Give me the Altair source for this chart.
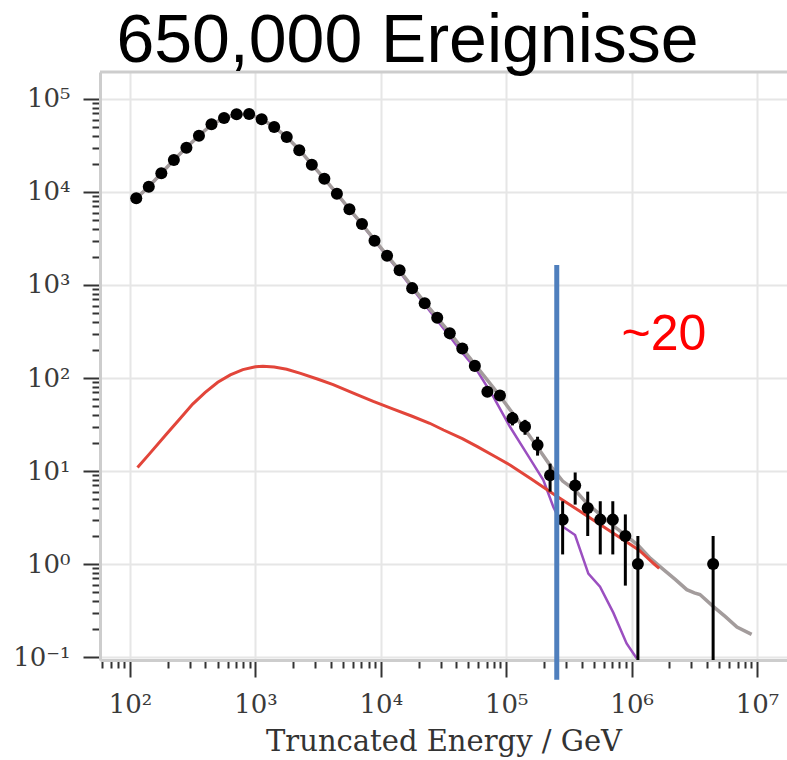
import numpy as np
import pandas as pd
import altair as alt

# ---- measured spectrum: event counts per bin (bin centres in log10 E/GeV) ----
point_log_e = [2.05, 2.15, 2.25, 2.35, 2.45, 2.55, 2.65, 2.75, 2.85, 2.95,
               3.05, 3.15, 3.25, 3.35, 3.45, 3.55, 3.65, 3.75, 3.85, 3.95,
               4.05, 4.15, 4.25, 4.35, 4.45, 4.55, 4.65, 4.75, 4.85, 4.95,
               5.05, 5.15, 5.25, 5.35, 5.45, 5.55, 5.65, 5.75, 5.85, 5.95,
               6.05, 6.65]
point_counts = [8550, 11400, 15900, 22100, 29950, 40300, 53450, 62500, 68500, 69000,
                60500, 50000, 39000, 28100, 19650, 13900, 9590, 6520, 4530, 2995,
                2065, 1442, 925, 635, 445, 302, 208, 135, 71, 65,
                37, 30, 19, 9, 3, 7, 4, 3, 3, 2,
                1, 1]

# ---- total expectation (grey) ----
total_log_e = [2.05, 2.15, 2.25, 2.35, 2.45, 2.55, 2.65, 2.75, 2.85, 2.95,
               3.05, 3.15, 3.25, 3.35, 3.45, 3.55, 3.65, 3.75, 3.85, 3.95,
               4.05, 4.15, 4.25, 4.35, 4.45, 4.55, 4.65, 4.75, 4.85, 4.95,
               5.05, 5.15, 5.25, 5.35, 5.45, 5.55, 5.65, 5.75, 5.85, 5.95,
               6.05, 6.15, 6.25, 6.35, 6.44, 6.5, 6.545, 6.65, 6.75, 6.84, 6.957]
total_n = [8550, 11400, 15900, 22100, 30000, 40300, 53000, 62500, 68000, 68500,
           61000, 50000, 39000, 28500, 19800, 13900, 9600, 6550, 4500, 3050,
           2080, 1430, 960, 650, 445, 305, 208, 140, 95, 64,
           42, 28, 18, 11.5, 7.8, 6.2, 4.4, 3.4, 2.6, 2.05,
           1.6, 1.15, 0.88, 0.68, 0.53, 0.49, 0.47, 0.35, 0.27, 0.21, 0.175]

# ---- conventional component (purple) ----
conv_log_e = [2.05, 2.15, 2.25, 2.35, 2.45, 2.55, 2.65, 2.75, 2.85, 2.95,
              3.05, 3.15, 3.25, 3.35, 3.45, 3.55, 3.65, 3.75, 3.85, 3.95,
              4.05, 4.15, 4.25, 4.35, 4.45, 4.55, 4.632, 4.765, 4.897, 5.03,
              5.163, 5.296, 5.376, 5.455, 5.549, 5.655, 5.748, 5.854, 5.96, 6.04]
conv_n = [8540, 11385, 15880, 22070, 29960, 40250, 52930, 62410, 67890, 68370,
          60870, 49880, 38890, 28400, 19720, 13840, 9545, 6495, 4455, 3010,
          2040, 1390, 925, 618, 415, 280, 200, 122, 63, 29.9,
          15.5, 8.0, 4.1, 2.5, 2.05, 0.79, 0.57, 0.30, 0.14, 0.097]

# ---- astrophysical component (red) ----
astro_log_e = [2.06, 2.15, 2.29, 2.4, 2.5, 2.6, 2.7, 2.8, 2.9, 3.0,
               3.06, 3.15, 3.25, 3.36, 3.5, 3.62, 3.8, 3.94, 4.1, 4.25,
               4.39, 4.5, 4.65, 4.77, 4.9, 5.03, 5.2, 5.4, 5.6, 5.8,
               5.9, 6.06, 6.18, 6.22]
astro_n = [10.9, 15.0, 24.8, 36.6, 52.5, 70, 90, 108, 123, 132,
           134, 131, 124, 112, 97, 85, 67, 56, 46.3, 38.8,
           32.6, 27.6, 22.3, 18.3, 14.6, 11.6, 8.2, 5.4, 3.6, 2.4,
           1.95, 1.41, 1.0, 0.9]

# ---- energy cut and annotation ----
cut_energy = [2.53e5]
cut_top = [1640]
cut_bottom = [0.057]
note_energy = [10 ** 6.258]
note_level = [200]
note_text = ["~20"]

# ---- tables ----
pts = pd.DataFrame({"E": 10 ** np.array(point_log_e), "N": point_counts})
err = np.sqrt(pts["N"])
pts["lo"] = np.maximum(pts["N"] - err, 1e-3)
pts["hi"] = pts["N"] + err
total = pd.DataFrame({"E": 10 ** np.array(total_log_e), "N": total_n})
conv = pd.DataFrame({"E": 10 ** np.array(conv_log_e), "N": conv_n})
astro = pd.DataFrame({"E": 10 ** np.array(astro_log_e), "N": astro_n})
cut = pd.DataFrame({"E": cut_energy, "N": cut_top, "N2": cut_bottom})
note = pd.DataFrame({"E": note_energy, "N": note_level, "t": note_text})

W, H = 687, 588
SERIF = "DejaVu Serif"
DEC = "abs(log(datum.value) / LN10 - round(log(datum.value) / LN10)) < 1e-6"
SUP = "['\u207b\u00b9','\u2070','\u00b9','\u00b2','\u00b3','\u2074','\u2075','\u2076','\u2077']"
LABEL = f"{DEC} ? '10' + {SUP}[round(log(datum.value) / LN10) + 1] : ''"

x_ticks = [m * 10.0 ** e for e in range(1, 8) for m in range(1, 10)
           if 57.7 <= m * 10.0 ** e <= 1.73e7]
y_ticks = [m * 10.0 ** e for e in range(-1, 6) for m in range(1, 10)
           if 0.093 <= m * 10.0 ** e <= 1.95e5]

common_axis = dict(
    labelExpr=LABEL,
    tickSize={"condition": {"test": DEC, "value": 17}, "value": 8},
    tickWidth=2, tickColor="#333333",
    domainColor="#cdcdcd", domainWidth=3,
    gridColor="#e6e6e6", gridWidth=2,
    gridOpacity={"condition": {"test": DEC, "value": 1}, "value": 0},
    labelFont=SERIF, labelFontSize=26, labelColor="#3a3a3a",
    labelOverlap=False, labelFlush=False, labelBound=False,
)

xs = alt.Scale(type="log", domain=[57.67, 1.734e7], nice=False)
ys = alt.Scale(type="log", domain=[0.0929, 1.95e5], nice=False)

X = alt.X("E:Q", scale=xs, axis=alt.Axis(
    values=x_ticks, title="Truncated Energy / GeV", labelPadding=14,
    titleFont=SERIF, titleFontSize=29, titleFontWeight="normal",
    titleColor="#333333", titlePadding=10, **common_axis))
Y = alt.Y("N:Q", scale=ys, axis=alt.Axis(
    values=y_ticks, title=None, labelPadding=13, **common_axis))

frame_top = alt.Chart(pd.DataFrame({"a": [0]})).mark_rule(
    color="#cdcdcd", strokeWidth=3).encode(
    x=alt.value(0), x2=alt.value(W), y=alt.value(0))

line_conv = alt.Chart(conv).mark_line(color="#9b4fc0", strokeWidth=2.5, clip=True).encode(x=X, y=Y)
line_total = alt.Chart(total).mark_line(color="#a39c9c", strokeWidth=3.5).encode(x=X, y=Y)
line_astro = alt.Chart(astro).mark_line(color="#e2453a", strokeWidth=3).encode(x=X, y=Y)

bars = alt.Chart(pts).mark_rule(color="black", strokeWidth=3, clip=True).encode(
    x=X, y=alt.Y("lo:Q", scale=ys), y2="hi:Q")
dots = alt.Chart(pts).mark_circle(color="black", size=145, opacity=1).encode(x=X, y=Y)

cut_line = alt.Chart(cut).mark_rule(color="#4f7fbd", strokeWidth=5).encode(
    x=X, y=Y, y2="N2:Q")
note_mark = alt.Chart(note).mark_text(
    font="Liberation Sans", fontSize=50, color="#ff0000",
    align="center", baseline="alphabetic").encode(x=X, y=Y, text="t:N")

chart = alt.layer(
    frame_top, line_conv, line_total, line_astro, bars, dots, cut_line, note_mark
).properties(
    width=W, height=H,
    padding={"left": 100, "top": 72, "right": 0, "bottom": 100},
    autosize=alt.AutoSizeParams(type="none"),
    title=alt.TitleParams("650,000 Ereignisse", font="Liberation Sans", fontSize=68,
                          fontWeight="normal", color="black", anchor="middle",
                          dx=-36, dy=68, offset=9, baseline="alphabetic"),
).configure_view(stroke=None).configure(background="white")

chart.save("out.html", embed_options={"renderer": "svg", "actions": False})
